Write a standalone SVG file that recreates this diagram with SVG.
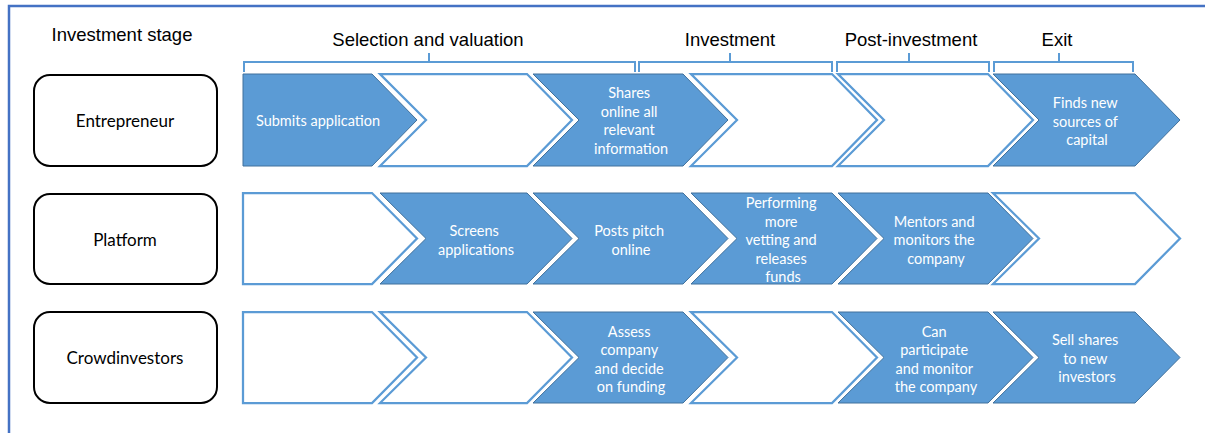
<svg xmlns="http://www.w3.org/2000/svg" width="1205" height="433" viewBox="0 0 1205 433">
  <defs>
    <style>
      .frame { fill: none; stroke: #4472C4; stroke-width: 2.5; }
      .head { font-family: "Liberation Sans", Arial, sans-serif; font-size: 18.5px; fill: #000; text-anchor: middle; }
      .role { fill: #fff; stroke: #000; stroke-width: 2; }
      .roleText { font-family: Lato, "Liberation Sans", sans-serif; font-size: 17px; fill: #000; text-anchor: middle; }
      .on { fill: #5B9BD5; stroke: #41719C; stroke-width: 1; stroke-linejoin: miter; }
      .off { fill: #fff; stroke: #5B9BD5; stroke-width: 2.25; stroke-linejoin: miter; }
      .step { font-family: Lato, "Liberation Sans", sans-serif; font-size: 14.5px; fill: #fff; text-anchor: middle; }
      .brace { fill: none; stroke: #5B9BD5; stroke-width: 2; }
    </style>
  </defs>

  <rect width="1205" height="433" fill="#fff"/>
  <!-- outer frame: top and left edges -->
  <path class="frame" d="M9,433 V6 H1205"/>

  <!-- column heading and stage titles -->
  <g id="stage-titles">
    <text class="head" x="122" y="41">Investment stage</text>
    <text class="head" x="428" y="46">Selection and valuation</text>
    <text class="head" x="730" y="46">Investment</text>
    <text class="head" x="911" y="46">Post-investment</text>
    <text class="head" x="1057" y="46">Exit</text>
  </g>

  <!-- brackets grouping the steps into stages -->
  <g id="connectors">
    <path class="brace" d="M244,72 V62 H635 V72 M429,62 V53"/>
    <path class="brace" d="M639,72 V62 H832 V72 M730,62 V53"/>
    <path class="brace" d="M837,72 V62 H989 V72 M909,62 V53"/>
    <path class="brace" d="M994,72 V62 H1133 V72 M1059,62 V53"/>
  </g>

  <!-- actors -->
  <g id="entrepreneur">
    <rect class="role" x="34" y="75" width="183" height="91" rx="16"/>
    <text class="roleText" x="125" y="127">Entrepreneur</text>
  </g>
  <g id="platform">
    <rect class="role" x="34" y="194" width="183" height="90" rx="16"/>
    <text class="roleText" x="125" y="245.5">Platform</text>
  </g>
  <g id="crowdinvestors">
    <rect class="role" x="34" y="312" width="183" height="91" rx="16"/>
    <text class="roleText" x="125" y="364">Crowdinvestors</text>
  </g>

  <!-- Entrepreneur row -->
  <g id="e1">
    <path class="on" d="M243,74 H372 L417,120 L372,166 H243 Z"/>
    <text class="step" x="318" y="126">Submits application</text>
  </g>
  <g id="e2"><path class="off" d="M380,74 H527 L572,120 L527,166 H380 L426,120 Z"/></g>
  <g id="e3">
    <path class="on" d="M533,74 H683 L728,120 L683,166 H533 L579,120 Z"/>
    <text class="step" x="631">
      <tspan x="631" y="98">Shares</tspan>
      <tspan x="631" y="116.5">online all</tspan>
      <tspan x="631" y="135">relevant</tspan>
      <tspan x="631" y="153.5">information</tspan>
    </text>
  </g>
  <g id="e4"><path class="off" d="M691,74 H832 L877,120 L832,166 H691 L737,120 Z"/></g>
  <g id="e5"><path class="off" d="M838,74 H988 L1033,120 L988,166 H838 L884,120 Z"/></g>
  <g id="e6">
    <path class="on" d="M993,74 H1135 L1180,120 L1135,166 H993 L1039,120 Z"/>
    <text class="step" x="1087">
      <tspan x="1087" y="108">Finds new</tspan>
      <tspan x="1087" y="126.5">sources of</tspan>
      <tspan x="1087" y="145">capital</tspan>
    </text>
  </g>

  <!-- Platform row -->
  <g id="p1"><path class="off" d="M243,193 H372 L417,238.5 L372,284 H243 Z"/></g>
  <g id="p2">
    <path class="on" d="M380,193 H527 L572,238.5 L527,284 H380 L426,238.5 Z"/>
    <text class="step" x="476">
      <tspan x="476" y="236">Screens</tspan>
      <tspan x="476" y="254.5">applications</tspan>
    </text>
  </g>
  <g id="p3">
    <path class="on" d="M533,193 H683 L728,238.5 L683,284 H533 L579,238.5 Z"/>
    <text class="step" x="631">
      <tspan x="631" y="236">Posts pitch</tspan>
      <tspan x="631" y="254.5">online</tspan>
    </text>
  </g>
  <g id="p4">
    <path class="on" d="M691,193 H832 L877,238.5 L832,284 H691 L737,238.5 Z"/>
    <text class="step" x="783">
      <tspan x="783" y="208">Performing</tspan>
      <tspan x="783" y="226.5">more</tspan>
      <tspan x="783" y="245">vetting and</tspan>
      <tspan x="783" y="263.5">releases</tspan>
      <tspan x="783" y="282">funds</tspan>
    </text>
  </g>
  <g id="p5">
    <path class="on" d="M838,193 H988 L1033,238.5 L988,284 H838 L884,238.5 Z"/>
    <text class="step" x="936">
      <tspan x="936" y="226.5">Mentors and</tspan>
      <tspan x="936" y="245">monitors the</tspan>
      <tspan x="936" y="263.5">company</tspan>
    </text>
  </g>
  <g id="p6"><path class="off" d="M993,193 H1135 L1180,238.5 L1135,284 H993 L1039,238.5 Z"/></g>

  <!-- Crowdinvestors row -->
  <g id="c1"><path class="off" d="M243,312 H372 L417,357.5 L372,403 H243 Z"/></g>
  <g id="c2"><path class="off" d="M380,312 H527 L572,357.5 L527,403 H380 L426,357.5 Z"/></g>
  <g id="c3">
    <path class="on" d="M533,312 H683 L728,357.5 L683,403 H533 L579,357.5 Z"/>
    <text class="step" x="631">
      <tspan x="631" y="336.5">Assess</tspan>
      <tspan x="631" y="355">company</tspan>
      <tspan x="631" y="373.5">and decide</tspan>
      <tspan x="631" y="392">on funding</tspan>
    </text>
  </g>
  <g id="c4"><path class="off" d="M691,312 H832 L877,357.5 L832,403 H691 L737,357.5 Z"/></g>
  <g id="c5">
    <path class="on" d="M838,312 H988 L1033,357.5 L988,403 H838 L884,357.5 Z"/>
    <text class="step" x="936">
      <tspan x="936" y="336.5">Can</tspan>
      <tspan x="936" y="355">participate</tspan>
      <tspan x="936" y="373.5">and monitor</tspan>
      <tspan x="936" y="392">the company</tspan>
    </text>
  </g>
  <g id="c6">
    <path class="on" d="M993,312 H1135 L1180,357.5 L1135,403 H993 L1039,357.5 Z"/>
    <text class="step" x="1087">
      <tspan x="1087" y="345">Sell shares</tspan>
      <tspan x="1087" y="363.5">to new</tspan>
      <tspan x="1087" y="382">investors</tspan>
    </text>
  </g>
</svg>
